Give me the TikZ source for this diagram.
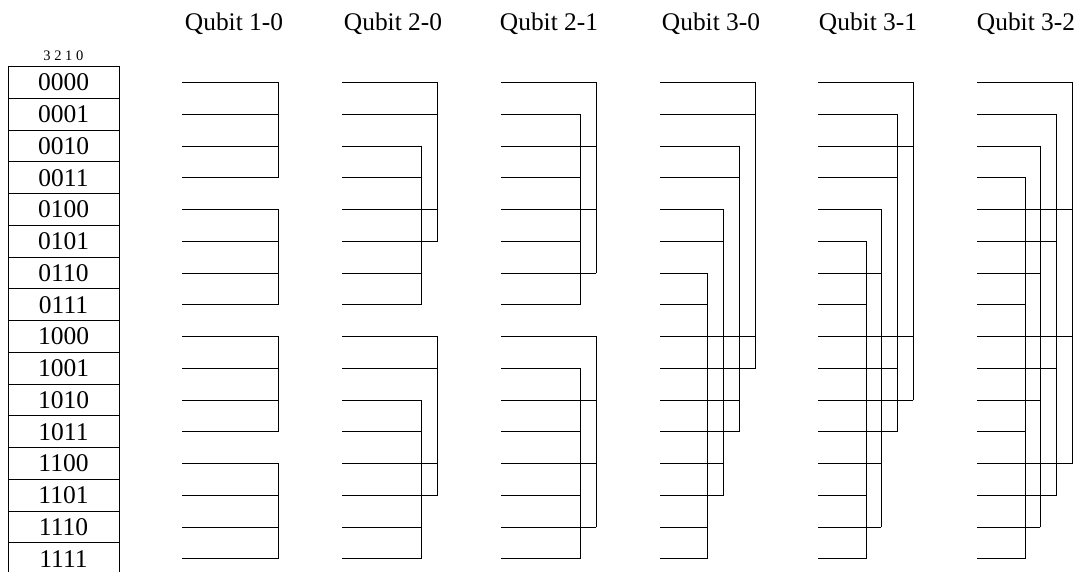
\documentclass[tikz,border=0pt]{standalone}
\usepackage{fontspec}
\setmainfont{Liberation Serif}
\begin{document}
\begin{tikzpicture}[x=1pt,y=-1pt,
  wire/.style={draw=black,line width=0.9pt,line cap=rect},
  cellbox/.style={draw=black,line width=0.9pt,minimum width=111pt,minimum height=31.75pt,inner sep=0pt,font=\fontsize{25.5}{28}\selectfont},
  header/.style={anchor=base,inner sep=0pt,font=\fontsize{25.4}{28}\selectfont},
  bitlabel/.style={anchor=base,inner sep=0pt,font=\fontsize{14.5}{16}\selectfont}]
\useasboundingbox (0,0) rectangle (1079,572);
% headers
\node[header] (h1) at (234,31) {Qubit 1-0};
\node[header] (h2) at (393,31) {Qubit 2-0};
\node[header] (h3) at (549,31) {Qubit 2-1};
\node[header] (h4) at (711,31) {Qubit 3-0};
\node[header] (h5) at (868,31) {Qubit 3-1};
\node[header] (h6) at (1026,31) {Qubit 3-2};
\node[bitlabel] (bits) at (63.4,61) {3 2 1 0};
% table
\foreach \r/\t in {0/0000,1/0001,2/0010,3/0011,4/0100,5/0101,6/0110,7/0111,8/1000,9/1001,10/1010,11/1011,12/1100,13/1101,14/1110,15/1111}
  \node[cellbox] (cell\r) at (63.5,{82.5+31.75*\r}) {\t};
% row lines
\newcommand\rowline[4]{%
  \coordinate (c#1s#2) at (#3,{82.5+31.75*#2});
  \coordinate (c#1e#2) at (#4,{82.5+31.75*#2});
  \draw[wire] (c#1s#2) -- (c#1e#2);}
% Qubit 1-0
\foreach \r in {0,...,15} {\rowline{1}{\r}{182}{278}}
\foreach \a/\b in {0/3,4/7,8/11,12/15} \draw[wire] (c1e\a) -- (c1e\b);
% Qubit 2-0
\foreach \r/\e in {0/437,1/437,2/421,3/421,4/437,5/437,6/421,7/421,8/437,9/437,10/421,11/421,12/437,13/437,14/421,15/421} {\rowline{2}{\r}{342}{\e}}
\foreach \a/\b in {0/5,2/7,8/13,10/15} \draw[wire] (c2e\a) -- (c2e\b);
% Qubit 2-1
\foreach \r/\e in {0/596,1/580,2/596,3/580,4/596,5/580,6/596,7/580,8/596,9/580,10/596,11/580,12/596,13/580,14/596,15/580} {\rowline{3}{\r}{501}{\e}}
\foreach \a/\b in {0/6,1/7,8/14,9/15} \draw[wire] (c3e\a) -- (c3e\b);
% Qubit 3-0
\foreach \r/\e in {0/755,1/755,2/739,3/739,4/723,5/723,6/707,7/707,8/755,9/755,10/739,11/739,12/723,13/723,14/707,15/707} {\rowline{4}{\r}{660}{\e}}
\foreach \a/\b in {0/9,2/11,4/13,6/15} \draw[wire] (c4e\a) -- (c4e\b);
% Qubit 3-1
\foreach \r/\e in {0/913,1/897,2/913,3/897,4/881,5/866,6/881,7/866,8/913,9/897,10/913,11/897,12/881,13/866,14/881,15/866} {\rowline{5}{\r}{818}{\e}}
\foreach \a/\b in {0/10,1/11,4/14,5/15} \draw[wire] (c5e\a) -- (c5e\b);
% Qubit 3-2
\foreach \r/\e in {0/1072,1/1056,2/1040,3/1025,4/1072,5/1056,6/1040,7/1025,8/1072,9/1056,10/1040,11/1025,12/1072,13/1056,14/1040,15/1025} {\rowline{6}{\r}{977}{\e}}
\foreach \a/\b in {0/12,1/13,2/14,3/15} \draw[wire] (c6e\a) -- (c6e\b);
\end{tikzpicture}
\end{document}
